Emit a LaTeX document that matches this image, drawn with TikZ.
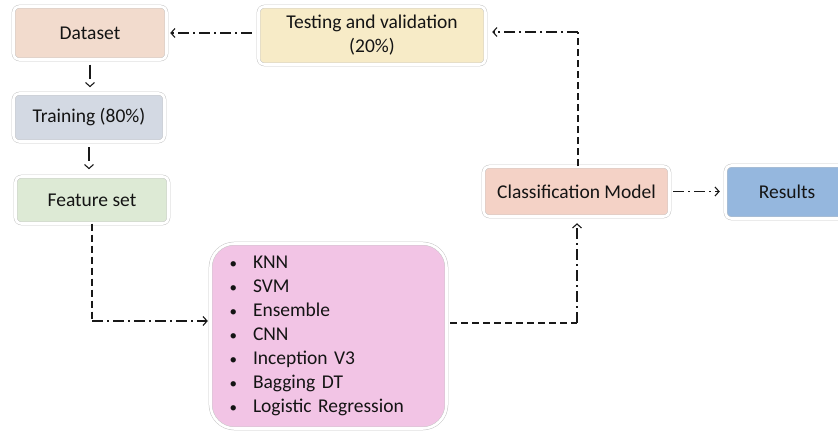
\documentclass[tikz,border=0pt]{standalone}
\usepackage{fontspec}
\setmainfont{Carlito}
\usetikzlibrary{arrows.meta}
\definecolor{cData}{HTML}{F2DBCD}
\definecolor{cTrain}{HTML}{D3D9E3}
\definecolor{cFeat}{HTML}{DDEAD5}
\definecolor{cTest}{HTML}{F7EBC7}
\definecolor{cClass}{HTML}{F4D2C6}
\definecolor{cRes}{HTML}{95B7DE}
\definecolor{cPink}{HTML}{F2C4E5}
\newcommand{\listitm}[1]{\makebox[24pt][l]{\hspace{0.5pt}{\fontsize{15}{15}\selectfont\textbullet}}#1}
\begin{document}
\begin{tikzpicture}[x=1pt,y=-1pt,
  box/.style={rounded corners=6pt, draw=black!22, line width=0.5pt, double=white,
    double distance=2.6pt, font=\fontsize{19.5}{24}\selectfont, text=black!92,
    inner sep=0pt, align=center},
  conn/.style={line width=1.1pt, draw=black!90},
  dsh/.style={conn, dash pattern=on 7pt off 4pt},
  dd/.style={conn, dash pattern=on 11pt off 4pt on 2pt off 4pt},
  dshort/.style={conn, dash pattern=on 14pt off 30pt},
  tip/.style={-{Straight Barb[length=4pt,width=9pt]}}]
\useasboundingbox (0,0) rectangle (838,438);
\fill[white] (0,0) rectangle (838,438);

\node[box, fill=cData, minimum width=153, minimum height=53] (data) at (90,33) {Dataset};
\node[box, fill=cTrain, minimum width=151, minimum height=48] (train) at (89,117.5) {Training (80\%)};
\node[box, fill=cFeat, minimum width=153, minimum height=47] (feat) at (92,200) {Feature set};
\node[box, fill=cTest, minimum width=227, minimum height=58] (test) at (372,35.5) {Testing and validation\\(20\%)};
\node[box, fill=cClass, minimum width=186, minimum height=50] (class) at (576.5,191.5) {Classification Model};
\node[box, fill=cRes, minimum width=123, minimum height=53] (res) at (787,192) {Results};
\node[box, rounded corners=24pt, fill=cPink, minimum height=185, inner xsep=18.5pt,
  text width=199pt, align=left] (pink) at (328.5,336)
  {\listitm{KNN}\\\listitm{SVM}\\\listitm{Ensemble}\\\listitm{CNN}\\\listitm{Inception V3}\\\listitm{Bagging DT}\\\listitm{Logistic Regression}};

% Testing -> Dataset
\draw[dd, tip, shorten <=6.5pt, shorten >=3.5pt] (test.west |- data.east) -- (data.east);
% Dataset -> Training
\draw[dshort, tip, shorten <=5pt, shorten >=6pt] (data.south) -- (data.south |- train.north);
% Training -> Feature set
\draw[dshort, tip, shorten <=5.5pt, shorten >=7pt] (train.south) -- (train.south |- feat.north);
% Feature set -> list
\coordinate (k1) at (92,321);
\draw[dsh] (feat.south) -- (k1);
\draw[dd, tip, shorten >=2.5pt] (k1) -- (k1 -| pink.west);
% list -> Classification
\coordinate (k2) at (577,323);
\draw[dsh, shorten <=3.5pt] (k2 -| pink.east) -- (k2);
\draw[dd, tip, shorten >=6.5pt] (k2) -- (k2 |- class.south);
% Classification -> Testing
\coordinate (k3) at (578,32);
\draw[dsh] (k3 |- class.north) -- (k3);
\draw[dd, tip, shorten >=6.5pt] (k3) -- (k3 -| test.east);
% Classification -> Results
\draw[dd, tip, shorten <=3.5pt, shorten >=5.5pt] (class.east) -- (class.east -| res.west);
\end{tikzpicture}
\end{document}
